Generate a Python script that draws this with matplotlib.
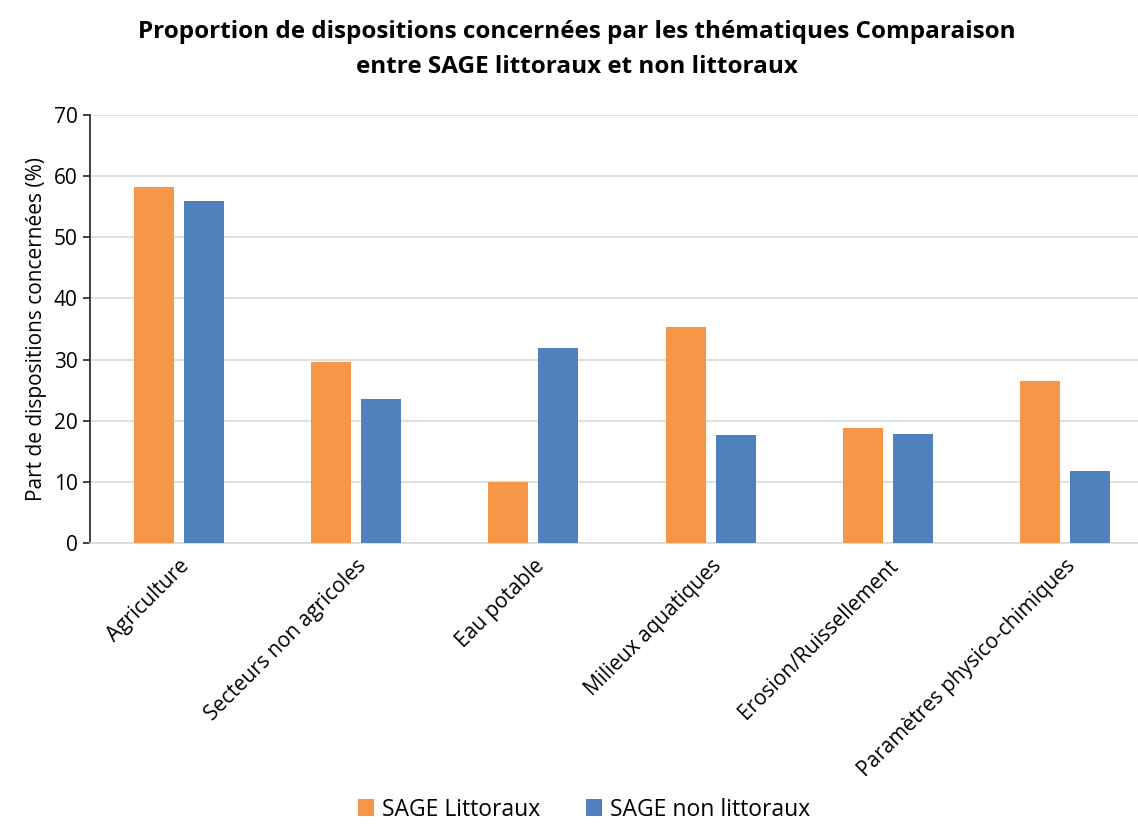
import numpy as np
import matplotlib.pyplot as plt

plt.rcParams['font.family'] = ['Open Sans', 'DejaVu Sans']

categories = ['Agriculture', 'Secteurs non agricoles', 'Eau potable',
              'Milieux aquatiques', 'Erosion/Ruissellement',
              'Paramètres physico-chimiques']
littoraux = [58.3, 29.6, 10.0, 35.3, 18.8, 26.5]
non_littoraux = [55.9, 23.6, 31.9, 17.6, 17.9, 11.7]

fig = plt.figure(figsize=(11.38, 8.24), dpi=100)
# plot area runs slightly past the right edge of the picture
ax = fig.add_axes([90/1138, 1-543/824, 1064/1138, 428/824])

x = np.arange(len(categories))
w = 0.226
ax.bar(x - 0.141, littoraux, w, color='#F79646', label='SAGE Littoraux', zorder=3)
ax.bar(x + 0.141, non_littoraux, w, color='#4F81BD', label='SAGE non littoraux', zorder=3)

ax.set_xlim(-0.5, len(categories) - 0.5)
ax.set_ylim(0, 70)
ax.set_yticks(range(0, 71, 10))
ax.yaxis.grid(True, color='#d9d9d9', linewidth=1.2, zorder=0)
ax.set_axisbelow(True)
for s in ['top', 'right']:
    ax.spines[s].set_visible(False)
ax.spines['bottom'].set_color('#d9d9d9')
ax.spines['bottom'].set_linewidth(1.2)
ax.spines['left'].set_color('#222222')
ax.spines['left'].set_linewidth(1.2)
ax.tick_params(axis='y', labelsize=15, length=5, width=1.2, color='#222222', pad=4)
ax.tick_params(axis='x', length=0, pad=9)
ax.set_xticks(x)
ax.set_xticklabels(categories, rotation=45, ha='right', rotation_mode='anchor',
                   fontsize=15)
ax.set_ylabel('Part de dispositions concernées (%)', fontsize=15, labelpad=5)

fig.suptitle('Proportion de dispositions concernées par les thématiques Comparaison\n'
             'entre SAGE littoraux et non littoraux',
             x=0.507, y=0.976, fontsize=17.5, fontweight='bold', linespacing=1.6)

fig.legend(loc='lower center', ncol=2, frameon=False, fontsize=16.5,
           bbox_to_anchor=(0.513, -0.022), handlelength=0.7, handleheight=0.7,
           handletextpad=0.35, columnspacing=2.0)

fig.savefig('out.png', dpi=100)
